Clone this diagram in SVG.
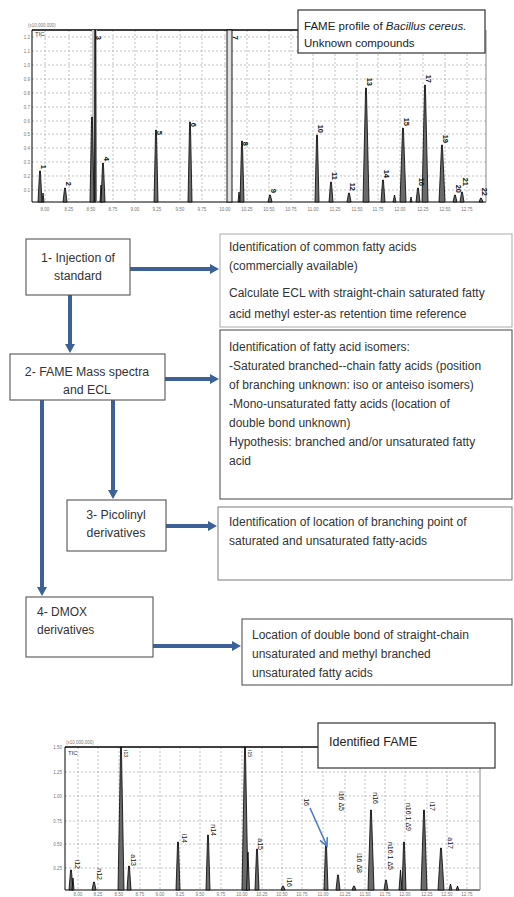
<svg xmlns="http://www.w3.org/2000/svg" width="514" height="897" viewBox="0 0 514 897">
<style>
.grid{stroke:#9a9a9a;stroke-width:0.6;stroke-dasharray:2,2;fill:none}
.axis{stroke:#000;stroke-width:1;fill:none}
.pk{fill:#6a6a6a;stroke:#000;stroke-width:0.8;stroke-linejoin:round}
.tick{font-family:"Liberation Sans",Arial,sans-serif;font-size:4.5px;fill:#777}
.pl{font-family:"Liberation Sans",Arial,sans-serif;font-size:7.5px;font-weight:bold;fill:#111}
.pl2{font-family:"Liberation Sans",Arial,sans-serif;font-size:7px;fill:#111}
.box{fill:#fff;stroke:#555;stroke-width:1.1}
.boxl{fill:#fff;stroke:#aaa;stroke-width:1}
.t{font-family:"Liberation Sans",Arial,sans-serif;font-size:12px;fill:#333}
.tc{font-family:"Liberation Sans",Arial,sans-serif;font-size:12.3px;fill:#333;text-anchor:middle}
.conn{stroke:#3c6196;stroke-width:4;fill:none}
.leg{fill:#fff;stroke:#333;stroke-width:1.2}
.lt{font-family:"Liberation Sans",Arial,sans-serif;font-size:11.5px;fill:#222}
</style>
<defs>
<marker id="ah" markerUnits="userSpaceOnUse" markerWidth="9" markerHeight="10" refX="2" refY="5" orient="auto">
<path d="M0,0 L9,5 L0,10 Z" fill="#3c6196"/>
</marker>
</defs>

<!-- TOP CHROMATOGRAM -->
<g id="chart-top">
<g class="grid">
<path d="M45,30V202M69,30V202M91,30V202M113,30V202M135,30V202M157,30V202M180,30V202M202,30V202M225,30V202M247,30V202M269,30V202M291,30V202M313,30V202M335,30V202M357,30V202M378,30V202M400,30V202M423,30V202M445,30V202M467,30V202"/>
<path d="M32,37H486M32,51H486M32,65H486M32,79H486M32,93H486M32,107H486M32,121H486M32,134H486M32,148H486M32,162H486M32,176H486M32,190H486"/>
</g>
<path class="axis" d="M32,30V202H486"/>
<path d="M32,30H300" stroke="#000" stroke-width="1.5"/>
<path d="M486,30V202" stroke="#888" stroke-width="1"/>
<text class="tick" x="28" y="27">(x10,000,000)</text>
<text class="tick" x="35" y="36" style="font-size:6px;fill:#333">TIC</text>
<g class="tick" text-anchor="end">
<text x="30" y="39">1.2</text><text x="30" y="53">1.1</text><text x="30" y="67">1.0</text><text x="30" y="81">0.9</text><text x="30" y="95">0.8</text><text x="30" y="109">0.7</text><text x="30" y="123">0.6</text><text x="30" y="136">0.5</text><text x="30" y="150">0.4</text><text x="30" y="164">0.3</text><text x="30" y="178">0.2</text><text x="30" y="192">0.1</text>
</g>
<g class="tick" text-anchor="middle">
<text x="45" y="211">8.00</text><text x="69" y="211">8.25</text><text x="91" y="211">8.50</text><text x="113" y="211">8.75</text><text x="135" y="211">9.00</text><text x="157" y="211">9.25</text><text x="180" y="211">9.50</text><text x="202" y="211">9.75</text><text x="225" y="211">10.00</text><text x="247" y="211">10.25</text><text x="269" y="211">10.50</text><text x="291" y="211">10.75</text><text x="313" y="211">11.00</text><text x="335" y="211">11.25</text><text x="357" y="211">11.50</text><text x="378" y="211">11.75</text><text x="400" y="211">12.00</text><text x="423" y="211">12.25</text><text x="445" y="211">12.50</text><text x="467" y="211">12.75</text>
</g>
<rect x="92" y="30" width="5" height="172" fill="#c8c8c8"/>
<rect x="227" y="30" width="5" height="172" fill="#e0e0e0" stroke="#000" stroke-width="0.9"/>
<g class="pk">
<path d="M38,202L39.6,171L40.4,171L42,202Z"/>
<path d="M42,202L43,193L44,202Z"/>
<path d="M63,202L64.6,188L65.4,188L67,202Z"/>
<path d="M90,202L91.6,117L92.4,117L94,202Z"/>
<path d="M94.5,202L94.8,30L95.6,30L96,202Z"/>
<path d="M100,202L101,185L102,202Z"/>
<path d="M101,202L102.6,163L103.4,163L105,202Z"/>
<path d="M154,202L155.6,130L156.4,130L158,202Z"/>
<path d="M188,202L189.6,122L190.4,122L192,202Z"/>
<path d="M238,202L239,192L240,202Z"/>
<path d="M240,202L241.6,141L242.4,141L244,202Z"/>
<path d="M268,202L269.6,195L270.4,195L272,202Z"/>
<path d="M315,202L316.6,135L317.4,135L319,202Z"/>
<path d="M329,202L330.6,182L331.4,182L333,202Z"/>
<path d="M347,202L348.6,193L349.4,193L351,202Z"/>
<path d="M363,202L365.6,88L366.4,88L369,202Z"/>
<path d="M381,202L382.6,180L383.4,180L385,202Z"/>
<path d="M393,202L394.5,195L396,202Z"/>
<path d="M400,202L402.6,128L403.4,128L406,202Z"/>
<path d="M410,202L411,197L412,202Z"/>
<path d="M416,202L417.6,188L418.4,188L420,202Z"/>
<path d="M422,202L424.6,85L425.4,85L428,202Z"/>
<path d="M439,202L441.6,145L442.4,145L445,202Z"/>
<path d="M453,202L454.6,195L455.4,195L457,202Z"/>
<path d="M460,202L461.6,192L462.4,192L464,202Z"/>
<path d="M479,202L480.6,198L481.4,198L483,202Z"/>
</g>
<g class="pl" text-anchor="end">
<text transform="translate(41,169) rotate(90)">1</text>
<text transform="translate(66,186) rotate(90)">2</text>
<text transform="translate(96,40) rotate(90)">3</text>
<text transform="translate(104,161) rotate(90)">4</text>
<text transform="translate(157,135) rotate(90)">5</text>
<text transform="translate(191,127) rotate(90)">6</text>
<text transform="translate(233,40) rotate(90)">7</text>
<text transform="translate(243,146) rotate(90)">8</text>
<text transform="translate(271,193) rotate(90)">9</text>
<text transform="translate(318,133) rotate(90)">10</text>
<text transform="translate(332,180) rotate(90)">11</text>
<text transform="translate(350,191) rotate(90)">12</text>
<text transform="translate(367,86) rotate(90)">13</text>
<text transform="translate(384,178) rotate(90)">14</text>
<text transform="translate(404,126) rotate(90)">15</text>
<text transform="translate(419,186) rotate(90)">16</text>
<text transform="translate(426,83) rotate(90)">17</text>
<text transform="translate(443,143) rotate(90)">19</text>
<text transform="translate(456,193) rotate(90)">20</text>
<text transform="translate(463,186) rotate(90)">21</text>
<text transform="translate(482,196) rotate(90)">22</text>
</g>
</g>
<g id="legend-top">
<rect class="leg" x="298" y="10" width="187" height="43"/>
<text class="lt" x="304" y="30">FAME profile of <tspan font-style="italic">Bacillus cereus.</tspan></text>
<text class="lt" x="304" y="47">Unknown compounds</text>
</g>

<!-- FLOWCHART -->
<g id="connectors">
<path class="conn" d="M130,269H212" marker-end="url(#ah)"/>
<path class="conn" d="M165,379H212" marker-end="url(#ah)"/>
<path class="conn" d="M166,526H210" marker-end="url(#ah)"/>
<path class="conn" d="M153,646H234" marker-end="url(#ah)"/>
<path class="conn" d="M70,295V346" marker-end="url(#ah)"/>
<path class="conn" d="M113,400V492" marker-end="url(#ah)"/>
<path class="conn" d="M42,400V589" marker-end="url(#ah)"/>
</g>

<g id="n1">
<rect class="box" x="26" y="239" width="104" height="56"/>
<text class="tc" x="78" y="262">1- Injection of</text>
<text class="tc" x="78" y="280">standard</text>
</g>
<g id="n2">
<rect class="box" x="10" y="354" width="155" height="46"/>
<text class="tc" x="87" y="376">2- FAME Mass spectra</text>
<text class="tc" x="87" y="394">and ECL</text>
</g>
<g id="n3">
<rect class="box" x="67" y="500" width="99" height="51"/>
<text class="tc" x="116" y="519">3- Picolinyl</text>
<text class="tc" x="116" y="537">derivatives</text>
</g>
<g id="n4">
<rect class="box" x="26" y="597" width="127" height="60"/>
<text class="t" x="37" y="616">4- DMOX</text>
<text class="t" x="37" y="634">derivatives</text>
</g>
<g id="r1">
<rect class="boxl" x="220" y="234" width="292" height="93"/>
<text class="t" x="229" y="251">Identification of common fatty acids</text>
<text class="t" x="229" y="270">(commercially available)</text>
<text class="t" x="229" y="297">Calculate ECL with straight-chain saturated fatty</text>
<text class="t" x="229" y="318">acid methyl ester-as retention time  reference</text>
</g>
<g id="r2">
<rect class="box" x="220" y="330" width="292" height="169"/>
<text class="t" x="229" y="351">Identification of fatty acid isomers:</text>
<text class="t" x="229" y="370">-Saturated branched--chain fatty acids (position</text>
<text class="t" x="229" y="389">of branching unknown: iso or anteiso isomers)</text>
<text class="t" x="229" y="408">-Mono-unsaturated fatty acids (location of</text>
<text class="t" x="229" y="427">double bond unknown)</text>
<text class="t" x="229" y="446">Hypothesis: branched and/or unsaturated fatty</text>
<text class="t" x="229" y="465">acid</text>
</g>
<g id="r3">
<rect class="box" x="218" y="507" width="294" height="73" style="stroke:#888"/>
<text class="t" x="229" y="526">Identification of location of branching point of</text>
<text class="t" x="229" y="545">saturated and unsaturated fatty-acids</text>
</g>
<g id="r4">
<rect class="box" x="242" y="619" width="270" height="66"/>
<text class="t" x="252" y="639">Location of double bond of straight-chain</text>
<text class="t" x="252" y="658">unsaturated and methyl branched</text>
<text class="t" x="252" y="677">unsaturated fatty acids</text>
</g>

<!-- BOTTOM CHROMATOGRAM -->
<g id="chart-bottom">
<g class="grid">
<path d="M78,747V890M98,747V890M119,747V890M140,747V890M160,747V890M180,747V890M200,747V890M221,747V890M242,747V890M262,747V890M282,747V890M302,747V890M323,747V890M345,747V890M365,747V890M385,747V890M405,747V890M427,747V890M447,747V890M467,747V890"/>
<path d="M65,772H480M65,796H480M65,821H480M65,844H480M65,868H480"/>
</g>
<path class="axis" d="M65,747V890H480"/>
<path d="M65,747H320" stroke="#000" stroke-width="1.5"/>
<path d="M480,747V890" stroke="#888" stroke-width="1"/>
<text class="tick" x="66" y="744">(x10,000,000)</text>
<text class="tick" x="68" y="755" style="font-size:6px;fill:#333">TIC</text>
<g class="tick" text-anchor="end">
<text x="62" y="749">1.50</text><text x="62" y="774">1.25</text><text x="62" y="798">1.00</text><text x="62" y="823">0.75</text><text x="62" y="846">0.50</text><text x="62" y="870">0.25</text>
</g>
<g class="tick" text-anchor="middle">
<text x="78" y="896">8.00</text><text x="98" y="896">8.25</text><text x="119" y="896">8.50</text><text x="140" y="896">8.75</text><text x="160" y="896">9.00</text><text x="180" y="896">9.25</text><text x="200" y="896">9.50</text><text x="221" y="896">9.75</text><text x="242" y="896">10.00</text><text x="262" y="896">10.25</text><text x="282" y="896">10.50</text><text x="302" y="896">10.75</text><text x="323" y="896">11.00</text><text x="345" y="896">11.25</text><text x="365" y="896">11.50</text><text x="385" y="896">11.75</text><text x="405" y="896">12.00</text><text x="427" y="896">12.25</text><text x="447" y="896">12.50</text><text x="467" y="896">12.75</text>
</g>
<g class="pk">
<path d="M69,890L70.6,870L71.4,870L73,890Z"/>
<path d="M72,890L73,878L74,890Z"/>
<path d="M92,890L93.6,882L94.4,882L96,890Z"/>
<path d="M118,890L120.6,747L121.4,747L124,890Z"/>
<path d="M127,890L128.6,866L129.4,866L131,890Z"/>
<path d="M176,890L177.6,842L178.4,842L180,890Z"/>
<path d="M206,890L207.6,835L208.4,835L210,890Z"/>
<path d="M242,890L244.6,747L245.4,747L248,890Z"/>
<path d="M246.5,890L248,852L249.5,890Z"/>
<path d="M255,890L256.6,849L257.4,849L259,890Z"/>
<path d="M281,890L282.6,886L283.4,886L285,890Z"/>
<path d="M324,890L325.6,843L326.4,843L328,890Z"/>
<path d="M336,890L337.6,875L338.4,875L340,890Z"/>
<path d="M352,890L353.6,886L354.4,886L356,890Z"/>
<path d="M368,890L370.6,810L371.4,810L374,890Z"/>
<path d="M384,890L385.6,880L386.4,880L388,890Z"/>
<path d="M399,890L400.5,870L402,890Z"/>
<path d="M402,890L403.6,842L404.4,842L406,890Z"/>
<path d="M421,890L423.6,810L424.4,810L427,890Z"/>
<path d="M438,890L440.6,848L441.4,848L444,890Z"/>
<path d="M449,890L450.5,884L452,890Z"/>
<path d="M456,890L457.5,886L459,890Z"/>
</g>
<g class="pl2" text-anchor="end">
<text transform="translate(75,869) rotate(90)">i12</text>
<text transform="translate(97,880) rotate(90)">n12</text>
<text transform="translate(124,757) rotate(90)" style="font-size:5px">i13</text>
<text transform="translate(131,866) rotate(90)">a13</text>
<text transform="translate(182,843) rotate(90)">i14</text>
<text transform="translate(211,836) rotate(90)">n14</text>
<text transform="translate(248,757) rotate(90)" style="font-size:5px">i15</text>
<text transform="translate(258,850) rotate(90)">a15</text>
<text transform="translate(287,887) rotate(90)">i16</text>
<text transform="translate(304,806) rotate(90)">16</text>
<text transform="translate(339,811) rotate(90)">i16 Δ5</text>
<text transform="translate(357,873) rotate(90)">i16 Δ8</text>
<text transform="translate(373,804) rotate(90)">n16</text>
<text transform="translate(388,870) rotate(90)">n16:1 Δ5</text>
<text transform="translate(406,831) rotate(90)">n16:1 Δ9</text>
<text transform="translate(430,811) rotate(90)">i17</text>
<text transform="translate(448,849) rotate(90)">a17</text>
</g>
<path d="M310,808L327,846M320,840.3L327,846L327.3,837.1" stroke="#4a7fc1" stroke-width="1.6" fill="none"/>
</g>
<g id="legend-bottom">
<rect class="leg" x="318" y="723" width="177" height="45"/>
<text class="lt" x="329" y="746" style="font-size:12.5px">Identified FAME</text>
</g>
</svg>
